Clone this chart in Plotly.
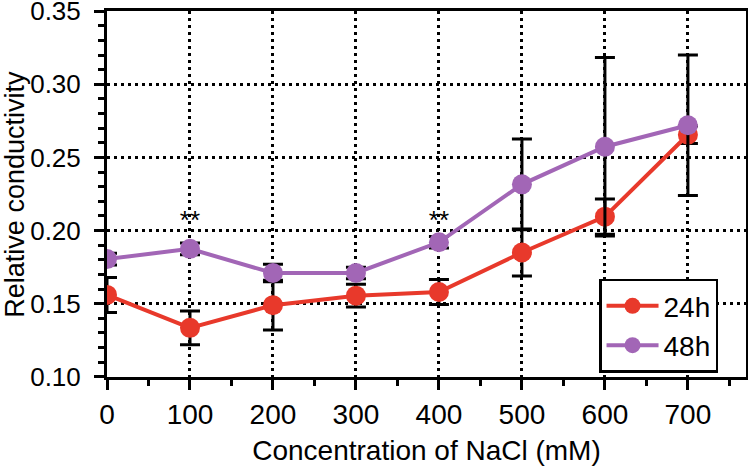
import plotly.graph_objects as go

conc = [0, 100, 200, 300, 400, 500, 600, 700]
h24 = [0.156, 0.1335, 0.149, 0.1555, 0.158, 0.185, 0.2095, 0.2655]
h24_err = [0.012, 0.0115, 0.017, 0.0078, 0.0085, 0.016, 0.012, 0.006]
h48 = [0.1805, 0.1875, 0.171, 0.171, 0.192, 0.2316, 0.2573, 0.272]
h48_err = [0.004, 0.004, 0.006, 0.004, 0.004, 0.031, 0.061, 0.048]
sig_x = [100, 400]
sig_y = [0.2058, 0.2058]
sig_text = ["**", "**"]
y_ticks = [0.10, 0.15, 0.20, 0.25, 0.30, 0.35]
x_ticks = [0, 100, 200, 300, 400, 500, 600, 700]

red = "#E8392B"
purple = "#A266B6"
font = "Liberation Sans, Arial, Helvetica, sans-serif"

fig = go.Figure()
fig.add_trace(go.Scatter(
    x=conc, y=h24, name="24h", mode="lines+markers",
    line=dict(color=red, width=4),
    marker=dict(color=red, size=20),
    error_y=dict(type="data", array=h24_err, color="black", thickness=3, width=10),
))
fig.add_trace(go.Scatter(
    x=conc, y=h48, name="48h", mode="lines+markers",
    line=dict(color=purple, width=4),
    marker=dict(color=purple, size=20),
    error_y=dict(type="data", array=h48_err, color="black", thickness=3, width=10),
))
fig.add_trace(go.Scatter(
    x=sig_x, y=sig_y, text=sig_text, mode="text", showlegend=False,
    textfont=dict(size=26, color="black", family=font), textposition="middle center",
))

axis_common = dict(
    showline=True, linewidth=3, linecolor="black", mirror=True,
    ticks="outside", ticklen=10, tickwidth=3, tickcolor="black",
    showgrid=True, gridcolor="black", gridwidth=2.5, griddash="3px,4px",
    zeroline=False, ticklabeloverflow="allow", automargin=False,
)

fig.update_layout(
    width=748, height=468,
    margin=dict(l=107, r=2, t=11, b=91),
    paper_bgcolor="white", plot_bgcolor="white",
    font=dict(family=font, size=28, color="black"),
    showlegend=True,
    legend=dict(
        x=0.77, y=0.012, xanchor="left", yanchor="bottom",
        bordercolor="black", borderwidth=2.5, bgcolor="white",
        font=dict(size=28), tracegroupgap=0, itemwidth=52,
    ),
    xaxis=dict(
        range=[0, 770], tickvals=x_ticks, tickfont=dict(size=28),
        minor=dict(dtick=50, ticks="outside", ticklen=6, tickwidth=3, tickcolor="black", showgrid=False),
        title=dict(text="Concentration of NaCl (mM)", standoff=12, font=dict(size=28)),
        **axis_common,
    ),
    yaxis=dict(
        range=[0.0999, 0.3501], tickvals=y_ticks, tickfont=dict(size=26),
        tickformat=".2f", ticklabelstandoff=8,
        minor=dict(dtick=0.01, ticks="outside", ticklen=6, tickwidth=3, tickcolor="black", showgrid=False),
        **axis_common,
    ),
    annotations=[dict(
        text="Relative conductivity", textangle=-90, showarrow=False,
        xref="paper", yref="paper", x=-0.1445, y=0.5,
        xanchor="center", yanchor="middle", font=dict(size=27, family=font, color="black"),
    )],
)

fig.write_html("out.html", config={"displayModeBar": False},
               post_script="document.body.style.margin='0';")
